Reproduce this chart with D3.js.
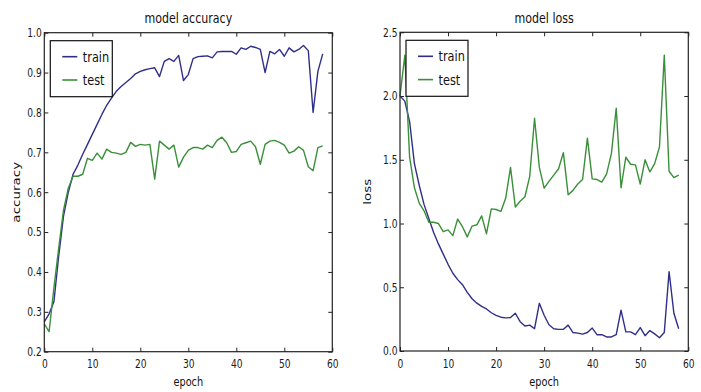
<!DOCTYPE html>
<html>
<head>
<meta charset="utf-8">
<script src="https://cdn.jsdelivr.net/npm/d3@7"></script>
<style>
  html, body { margin: 0; padding: 0; background: #fff; }
  svg { display: block; font-family: "DejaVu Sans", sans-serif; }
</style>
</head>
<body>
<svg id="chart" width="701" height="392"></svg>
<script>
// values, one per epoch (0..58)
const epochs = d3.range(0, 59);

const accTrain = [0.275, 0.295, 0.325, 0.44, 0.54, 0.60, 0.645, 0.668, 0.695, 0.72,
  0.745, 0.77, 0.795, 0.818, 0.836, 0.853, 0.865, 0.875, 0.885, 0.897,
  0.903, 0.907, 0.91, 0.912, 0.89, 0.928, 0.935, 0.928, 0.943, 0.88,
  0.895, 0.935, 0.94, 0.941, 0.942, 0.937, 0.952, 0.953, 0.953, 0.953,
  0.946, 0.962, 0.958, 0.966, 0.963, 0.958, 0.90, 0.953, 0.947, 0.958,
  0.941, 0.962, 0.952, 0.958, 0.968, 0.955, 0.80, 0.903, 0.947];

const accTest = [0.27, 0.25, 0.36, 0.46, 0.555, 0.61, 0.64, 0.64, 0.645, 0.685,
  0.68, 0.698, 0.683, 0.708, 0.70, 0.698, 0.695, 0.70, 0.725, 0.715,
  0.72, 0.718, 0.72, 0.633, 0.728, 0.718, 0.708, 0.718, 0.663, 0.688,
  0.705, 0.712, 0.712, 0.708, 0.718, 0.712, 0.73, 0.738, 0.724, 0.70,
  0.702, 0.72, 0.724, 0.728, 0.714, 0.67, 0.72, 0.728, 0.73, 0.725,
  0.718, 0.698, 0.703, 0.714, 0.705, 0.664, 0.654, 0.712, 0.716];

const lossTrain = [2.0, 1.96, 1.80, 1.47, 1.30, 1.15, 1.04, 0.93, 0.84, 0.76,
  0.68, 0.61, 0.56, 0.52, 0.46, 0.41, 0.375, 0.35, 0.33, 0.30,
  0.28, 0.265, 0.26, 0.262, 0.296, 0.23, 0.196, 0.203, 0.175, 0.374,
  0.28, 0.206, 0.175, 0.17, 0.17, 0.203, 0.145, 0.14, 0.132, 0.145,
  0.18, 0.128, 0.128, 0.11, 0.11, 0.128, 0.32, 0.15, 0.15, 0.128,
  0.184, 0.12, 0.16, 0.134, 0.104, 0.145, 0.623, 0.296, 0.175];

const lossTest = [2.0, 2.32, 1.52, 1.28, 1.16, 1.10, 1.01, 1.01, 1.0, 0.936,
  0.95, 0.905, 1.035, 0.975, 0.895, 0.98, 0.99, 1.06, 0.92, 1.115,
  1.11, 1.095, 1.20, 1.44, 1.13, 1.175, 1.21, 1.37, 1.826, 1.44,
  1.277, 1.33, 1.38, 1.43, 1.556, 1.225, 1.26, 1.31, 1.345, 1.67,
  1.35, 1.345, 1.325, 1.39, 1.55, 1.905, 1.28, 1.52, 1.465, 1.46,
  1.31, 1.50, 1.405, 1.47, 1.60, 2.32, 1.41, 1.36, 1.38];

const epochTicks = [0, 10, 20, 30, 40, 50, 60];
const accTicks = [0.2, 0.3, 0.4, 0.5, 0.6, 0.7, 0.8, 0.9, 1.0];
const lossTicks = [0.0, 0.5, 1.0, 1.5, 2.0, 2.5];
const seriesNames = ['train', 'test'];
const seriesColors = ['#2f2f8a', '#3a8f3a'];

const svg = d3.select('#chart');

function panel(opt) {
	const w = opt.x1 - opt.x0;
	const h = opt.y1 - opt.y0;
	const g = svg.append('g').attr('transform', 'translate(' + opt.x0 + ',' + opt.y0 + ')');

	const x = d3.scaleLinear().domain([0, 60]).range([0, w]);
	const y = d3.scaleLinear().domain(opt.yDomain).range([h, 0]);

	// ticks point inward on all four sides
	const left = g.append('g').call(d3.axisLeft(y).tickValues(opt.yTicks).tickSize(-4).tickPadding(3).tickFormat(d3.format('.1f')));
	g.append('g').attr('transform', 'translate(' + w + ',0)')
		.call(d3.axisRight(y).tickValues(opt.yTicks).tickSize(-4).tickFormat(''));
	const bottom = g.append('g').attr('transform', 'translate(0,' + h + ')')
		.call(d3.axisBottom(x).tickValues(epochTicks).tickSize(-4).tickPadding(6).tickFormat(d3.format('d')));
	g.append('g').call(d3.axisTop(x).tickValues(epochTicks).tickSize(-4).tickFormat(''));

	g.selectAll('.domain').remove();
	g.selectAll('.tick line').attr('stroke', '#222');

	left.selectAll('text')
		.attr('font-size', 12).attr('fill', '#1a1a1a').attr('font-family', 'DejaVu Sans')
		.attr('transform', 'translate(-2.5,0) scale(0.76,1)').attr('x', 0);
	bottom.selectAll('text')
		.attr('font-size', 12).attr('fill', '#1a1a1a').attr('font-family', 'DejaVu Sans')
		.attr('transform', 'translate(0,2) scale(0.76,1)');

	const line = d3.line().x(function(d, i) { return x(epochs[i]); }).y(function(d) { return y(d); });
	opt.series.forEach(function(s, i) {
		g.append('path').datum(s)
			.attr('fill', 'none')
			.attr('stroke', seriesColors[i])
			.attr('stroke-width', 1.4)
			.attr('stroke-linejoin', 'round')
			.attr('d', line);
	});

	g.append('rect').attr('width', w).attr('height', h)
		.attr('fill', 'none').attr('stroke', '#222').attr('stroke-width', 1.2);

	// legend
	const lg = g.append('g').attr('transform', 'translate(6,8)');
	lg.append('rect').attr('width', 62).attr('height', 56)
		.attr('fill', '#fff').attr('stroke', '#111').attr('stroke-width', 1.2);
	seriesNames.forEach(function(name, i) {
		const yy = 16 + i * 23.3;
		lg.append('line').attr('x1', 12).attr('x2', 27).attr('y1', yy).attr('y2', yy)
			.attr('stroke', seriesColors[i]).attr('stroke-width', 1.6);
		lg.append('text').attr('transform', 'translate(32.5,' + (yy + 5) + ') scale(0.78,1)')
			.attr('font-size', 14.5).attr('fill', '#111').text(name);
	});

	// title and axis labels
	g.append('text').attr('transform', 'translate(' + (w / 2) + ',-9.5) scale(0.82,1)')
		.attr('text-anchor', 'middle').attr('font-size', 13.5).attr('fill', '#111').text(opt.title);
	g.append('text').attr('transform', 'translate(' + (w / 2) + ',' + (h + 34.5) + ') scale(0.78,1)')
		.attr('text-anchor', 'middle').attr('font-size', 12.5).attr('fill', '#111').text('epoch');
	g.append('text').attr('transform', 'translate(' + opt.yLabelX + ',' + (h / 2) + ') rotate(-90) scale(1,0.8)')
		.attr('text-anchor', 'middle').attr('font-size', 13.5).attr('fill', '#111').text(opt.yLabel);
}

panel({ x0: 44.3, x1: 332.3, y0: 32.7, y1: 351.7, yDomain: [0.2, 1.0], yTicks: accTicks,
	series: [accTrain, accTest], title: 'model accuracy', yLabel: 'accuracy', yLabelX: -24 });
panel({ x0: 400, x1: 688.3, y0: 32.3, y1: 351, yDomain: [0, 2.5], yTicks: lossTicks,
	series: [lossTrain, lossTest], title: 'model loss', yLabel: 'loss', yLabelX: -29 });
</script>
</body>
</html>
